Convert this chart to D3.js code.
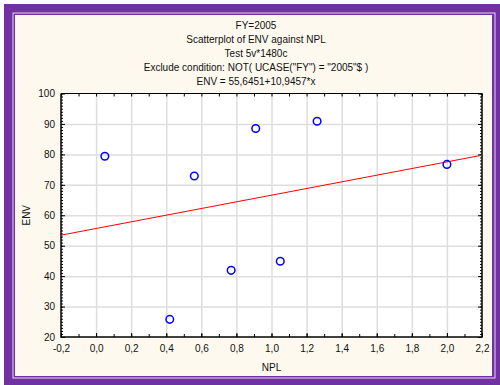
<!DOCTYPE html>
<html>
<head>
<meta charset="utf-8">
<script src="https://cdn.jsdelivr.net/npm/d3@7"></script>
<style>
  html, body { margin: 0; padding: 0; background: #ffffff; }
  svg { display: block; font-family: "Liberation Sans", Arial, sans-serif; }
</style>
</head>
<body>
<svg id="chart" width="500" height="385"></svg>
<script>
// Observations (FY = 2005)
const nplValues = [0.05, 0.42, 0.56, 0.77, 0.91, 1.05, 1.26, 2.00];
const envValues = [79.4, 25.8, 72.9, 41.9, 88.5, 44.9, 90.9, 76.7];

// Fitted line ENV = a + b * NPL
const intercept = 55.6451;
const slope = 10.9457;

const titleLines = [
  "FY=2005",
  "Scatterplot of ENV against NPL",
  "Test 5v*1480c",
  "Exclude condition: NOT( UCASE(\"FY\") = \"2005\"$ )",
  "ENV = 55,6451+10,9457*x"
];

const xTicks = [-0.2, 0.0, 0.2, 0.4, 0.6, 0.8, 1.0, 1.2, 1.4, 1.6, 1.8, 2.0, 2.2];
const yTicks = [20, 30, 40, 50, 60, 70, 80, 90, 100];
const xDomain = [-0.2, 2.2];
const yDomain = [20, 100];
const xLabel = "NPL";
const yLabel = "ENV";

const svg = d3.select("#chart");

// Window frame
const purple = "#7131a1";
svg.append("rect").attr("x", 4).attr("y", 4).attr("width", 496).attr("height", 381).attr("fill", purple);
svg.append("rect").attr("x", 12.5).attr("y", 12.5).attr("width", 483).attr("height", 366).attr("fill", "#e4d9ee");
svg.append("rect").attr("x", 13.5).attr("y", 13.5).attr("width", 481).attr("height", 364).attr("fill", purple);
svg.append("rect").attr("x", 15).attr("y", 15).attr("width", 477).attr("height", 361).attr("fill", "#fdf9ef");

// Titles
const title = svg.append("g").attr("font-size", 10).attr("fill", "#111").attr("text-anchor", "middle");
titleLines.forEach((t, i) => {
  title.append("text").attr("x", 256).attr("y", 25 + i * 14.2).attr("dy", "0.35em").text(t);
});

// Plot area
const plotL = 61, plotR = 482, plotT = 93.5, plotB = 337;
const x = d3.scaleLinear().domain(xDomain).range([plotL, plotR]);
const y = d3.scaleLinear().domain(yDomain).range([plotB, plotT]);

svg.append("rect").attr("x", plotL).attr("y", plotT).attr("width", plotR - plotL).attr("height", plotB - plotT).attr("fill", "#ffffff");

// Grid
const gridX = svg.append("g").attr("transform", `translate(0,${plotB})`)
  .call(d3.axisBottom(x).tickValues(xTicks.slice(1, -1)).tickSize(-(plotB - plotT)).tickFormat(""));
const gridY = svg.append("g").attr("transform", `translate(${plotL},0)`)
  .call(d3.axisLeft(y).tickValues(yTicks.slice(1, -1)).tickSize(-(plotR - plotL)).tickFormat(""));
[gridX, gridY].forEach(g => {
  g.select(".domain").remove();
  g.selectAll(".tick line").attr("stroke", "#dedede").attr("stroke-width", 1.5);
});

// Minor tick positions
const xMinor = d3.range(-0.2, 2.2001, 0.1).map(v => +v.toFixed(2));
const yMinor = d3.range(20, 100.001, 1);

function styleAxis(g) {
  g.select(".domain").remove();
  g.selectAll(".tick line").attr("stroke", "#000").attr("stroke-width", 1);
  g.selectAll("text").attr("font-size", 10).attr("fill", "#111").attr("font-family", "Liberation Sans, Arial, sans-serif");
}

// Bottom axis: inward ticks with labels
const xAxis = svg.append("g").attr("transform", `translate(0,${plotB})`)
  .call(d3.axisBottom(x).tickValues(xTicks).tickSizeInner(-4).tickSizeOuter(0).tickPadding(8)
    .tickFormat(d => d3.format(".1f")(d).replace(".", ",").replace("-0,0", "0,0").replace("−", "-")));
styleAxis(xAxis);
const xAxisMinor = svg.append("g").attr("transform", `translate(0,${plotB})`)
  .call(d3.axisBottom(x).tickValues(xMinor).tickSizeInner(-3).tickSizeOuter(0).tickFormat(""));
styleAxis(xAxisMinor);

// Top axis ticks
const xTop = svg.append("g").attr("transform", `translate(0,${plotT})`)
  .call(d3.axisTop(x).tickValues(xMinor).tickSizeInner(-3).tickSizeOuter(0).tickFormat(""));
styleAxis(xTop);

// Left axis: inward ticks with labels
const yAxis = svg.append("g").attr("transform", `translate(${plotL},0)`)
  .call(d3.axisLeft(y).tickValues(yTicks).tickSizeInner(-4).tickSizeOuter(0).tickPadding(6));
styleAxis(yAxis);
const yAxisMinor = svg.append("g").attr("transform", `translate(${plotL},0)`)
  .call(d3.axisLeft(y).tickValues(yMinor).tickSizeInner(-2).tickSizeOuter(0).tickFormat(""));
styleAxis(yAxisMinor);

// Right axis ticks
const yRight = svg.append("g").attr("transform", `translate(${plotR},0)`)
  .call(d3.axisRight(y).tickValues(yMinor).tickSizeInner(-2).tickSizeOuter(0).tickFormat(""));
styleAxis(yRight);
const yRightMajor = svg.append("g").attr("transform", `translate(${plotR},0)`)
  .call(d3.axisRight(y).tickValues(yTicks).tickSizeInner(-4).tickSizeOuter(0).tickFormat(""));
styleAxis(yRightMajor);

// Plot frame
svg.append("line").attr("x1", plotL).attr("x2", plotR).attr("y1", plotT).attr("y2", plotT).attr("stroke", "#000").attr("stroke-width", 1);
svg.append("line").attr("x1", plotR).attr("x2", plotR).attr("y1", plotT).attr("y2", plotB).attr("stroke", "#000").attr("stroke-width", 1.5);
svg.append("line").attr("x1", plotL).attr("x2", plotL).attr("y1", plotT).attr("y2", plotB + 0.75).attr("stroke", "#000").attr("stroke-width", 1.5);
svg.append("line").attr("x1", plotL).attr("x2", plotR + 0.75).attr("y1", plotB).attr("y2", plotB).attr("stroke", "#000").attr("stroke-width", 1.5);

// Regression line
svg.append("line")
  .attr("x1", x(xDomain[0])).attr("y1", y(intercept + slope * xDomain[0]))
  .attr("x2", x(xDomain[1])).attr("y2", y(intercept + slope * xDomain[1]))
  .attr("stroke", "#ff0000").attr("stroke-width", 1);

// Points
svg.append("g").selectAll("circle")
  .data(nplValues.map((v, i) => [v, envValues[i]]))
  .join("circle")
  .attr("cx", d => x(d[0])).attr("cy", d => y(d[1])).attr("r", 3.8)
  .attr("fill", "none").attr("stroke", "#0000ff").attr("stroke-width", 1.5);

// Axis titles
svg.append("text").attr("x", (plotL + plotR) / 2).attr("y", 367).attr("dy", "0.35em")
  .attr("text-anchor", "middle").attr("font-size", 10).attr("fill", "#111").text(xLabel);
svg.append("text").attr("transform", `translate(26,${(plotT + plotB) / 2}) rotate(-90)`).attr("dy", "0.35em")
  .attr("text-anchor", "middle").attr("font-size", 10).attr("fill", "#111").text(yLabel);
</script>
</body>
</html>
